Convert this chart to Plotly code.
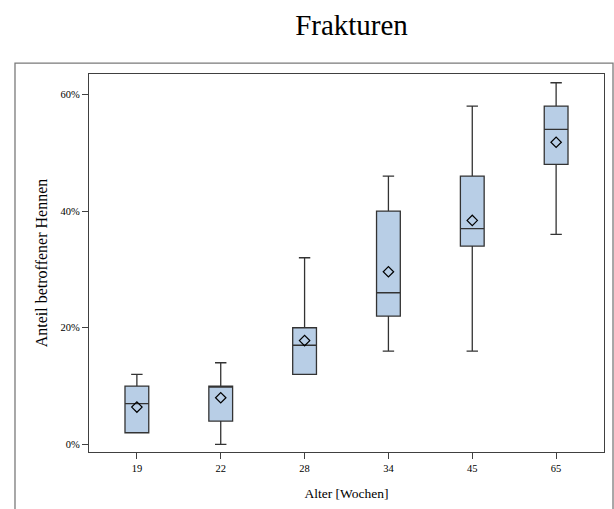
import plotly.graph_objects as go

ages = ["19", "22", "28", "34", "45", "65"]
lower = [2, 0, 12, 16, 16, 36]
q1 = [2, 4, 12, 22, 34, 48]
median = [7, 10, 17, 26, 37, 54]
q3 = [10, 10, 20, 40, 46, 58]
upper = [12, 14, 32, 46, 58, 62]
mean = [6.4, 8.0, 17.8, 29.6, 38.4, 51.8]
y_ticks = [0, 20, 40, 60]
y_tick_labels = ["0%", "20%", "40%", "60%"]

SERIF = "Liberation Serif, Times New Roman, serif"
LINE = "#333333"
FILL = "#b8cee6"

fig = go.Figure()
fig.add_trace(go.Box(
    x=ages, q1=q1, median=median, q3=q3,
    lowerfence=lower, upperfence=upper,
    boxpoints=False, boxmean=False,
    fillcolor=FILL, line=dict(color=LINE, width=1.3),
    whiskerwidth=0.48, showlegend=False, hoverinfo="skip",
))
fig.add_trace(go.Scatter(
    x=ages, y=mean, mode="markers",
    marker=dict(symbol="diamond-open", size=8, color="black",
                line=dict(width=1.2, color="black")),
    showlegend=False,
))

fig.update_layout(
    width=614, height=509,
    margin=dict(l=89, r=10, t=74, b=57),
    paper_bgcolor="white", plot_bgcolor="white",
    boxgap=0.595,
    font=dict(family=SERIF, color="black"),
    title=dict(text="Frakturen", x=351.5/614, xanchor="center",
               y=1 - 25/509, yanchor="middle", yref="container",
               font=dict(family=SERIF, size=29, color="black")),
    xaxis=dict(type="category", range=[-0.571, 5.571],
               showline=True, mirror=True, linecolor="#404040", linewidth=1.2,
               ticks="outside", ticklen=6, tickcolor="#404040",
               showgrid=False, zeroline=False,
               tickfont=dict(family=SERIF, size=10.5),
               title=dict(text="Alter [Wochen]", standoff=15,
                          font=dict(family=SERIF, size=13.5))),
    yaxis=dict(range=[-1.3, 63.5], tickvals=y_ticks, ticktext=y_tick_labels,
               showline=True, mirror=True, linecolor="#404040", linewidth=1.2,
               ticks="outside", ticklen=6, tickcolor="#404040",
               showgrid=False, zeroline=False,
               tickfont=dict(family=SERIF, size=10.5),
               title=dict(text="Anteil betroffener Hennen", standoff=8,
                          font=dict(family=SERIF, size=16))),
    shapes=[dict(type="rect", xref="paper", yref="paper",
                 x0=-0.1437, x1=1.0175, y0=-0.25, y1=1.029,
                 line=dict(color="#7a7a7a", width=1.3), layer="below")],
)

fig.write_html("out.html")
